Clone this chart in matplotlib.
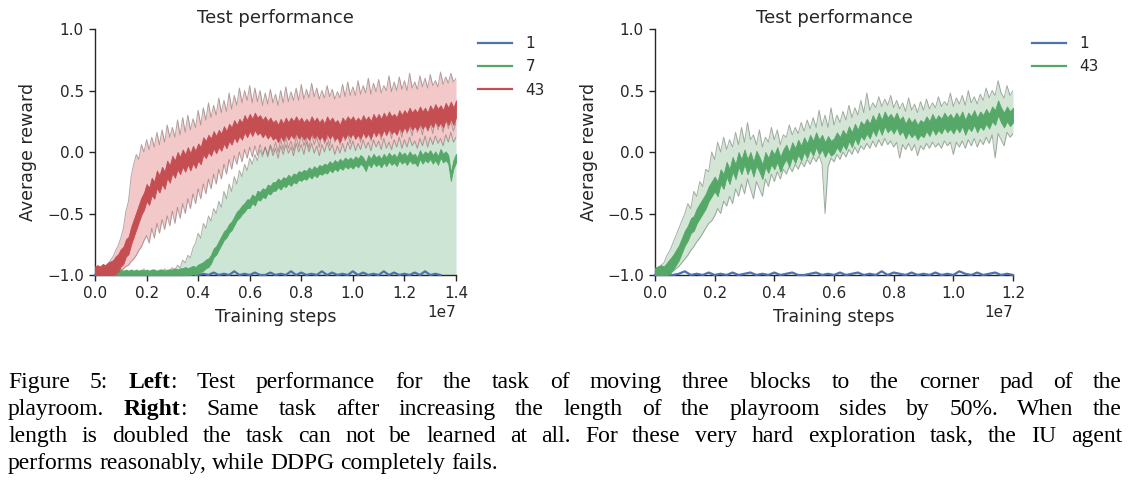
import numpy as np
import matplotlib
matplotlib.use('Agg')
import matplotlib.pyplot as plt
from matplotlib.lines import Line2D

# colours (seaborn "deep")
BLUE = '#4C72B0'
GREEN = '#55A868'
RED = '#C44E52'

# ---- left panel: three blocks, sampled every 0.01e7 steps from 0 to 1.4e7 ----
red43_mean = [
    -1.00, -0.99, -1.00, -0.98, -0.99, -0.97, -0.96, -0.95, -0.92, -0.90,
    -0.86, -0.84, -0.78, -0.76, -0.68, -0.62, -0.56, -0.50, -0.44, -0.40,
    -0.33, -0.36, -0.28, -0.31, -0.22, -0.26, -0.19, -0.23, -0.14, -0.18,
    -0.10, -0.14, -0.07, -0.11, -0.05, -0.09, -0.03, -0.08, -0.02, -0.06,
    0.00, -0.03, 0.05, 0.02, 0.07, 0.04, 0.10, 0.06, 0.11, 0.08,
    0.14, 0.10, 0.16, 0.13, 0.19, 0.15, 0.20, 0.17, 0.23, 0.19,
    0.24, 0.20, 0.25, 0.21, 0.23, 0.19, 0.22, 0.18, 0.21, 0.17,
    0.19, 0.15, 0.20, 0.16, 0.21, 0.17, 0.21, 0.18, 0.22, 0.18,
    0.21, 0.17, 0.20, 0.17, 0.22, 0.18, 0.21, 0.17, 0.20, 0.16,
    0.22, 0.18, 0.21, 0.17, 0.19, 0.15, 0.21, 0.18, 0.22, 0.19,
    0.22, 0.18, 0.21, 0.18, 0.23, 0.19, 0.22, 0.18, 0.24, 0.20,
    0.24, 0.20, 0.25, 0.21, 0.26, 0.22, 0.24, 0.21, 0.27, 0.23,
    0.27, 0.24, 0.29, 0.25, 0.28, 0.25, 0.30, 0.26, 0.29, 0.25,
    0.31, 0.27, 0.32, 0.28, 0.31, 0.27, 0.33, 0.29, 0.34, 0.29,
    0.35]
red43_core = 0.07   # half-thickness of the noisy mean trace
red43_hi = [
    -0.98, -0.97, -0.96, -0.95, -0.93, -0.91, -0.88, -0.85, -0.80, -0.76,
    -0.70, -0.62, -0.48, -0.40, -0.20, -0.10, -0.02, -0.06, 0.06, 0.00,
    0.10, 0.02, 0.12, 0.04, 0.16, 0.06, 0.18, 0.08, 0.22, 0.12,
    0.20, 0.12, 0.26, 0.14, 0.28, 0.16, 0.30, 0.18, 0.27, 0.20,
    0.34, 0.22, 0.36, 0.26, 0.40, 0.28, 0.38, 0.30, 0.44, 0.32,
    0.42, 0.33, 0.48, 0.35, 0.46, 0.38, 0.52, 0.40, 0.50, 0.42,
    0.54, 0.40, 0.52, 0.41, 0.50, 0.38, 0.48, 0.39, 0.51, 0.40,
    0.47, 0.38, 0.50, 0.40, 0.53, 0.41, 0.49, 0.42, 0.52, 0.42,
    0.55, 0.43, 0.51, 0.44, 0.56, 0.45, 0.52, 0.43, 0.50, 0.44,
    0.54, 0.45, 0.51, 0.43, 0.49, 0.44, 0.55, 0.45, 0.57, 0.46,
    0.53, 0.46, 0.58, 0.47, 0.54, 0.48, 0.60, 0.47, 0.56, 0.49,
    0.59, 0.48, 0.54, 0.50, 0.62, 0.49, 0.57, 0.50, 0.61, 0.51,
    0.58, 0.50, 0.64, 0.52, 0.57, 0.51, 0.62, 0.53, 0.60, 0.52,
    0.63, 0.54, 0.58, 0.53, 0.65, 0.55, 0.61, 0.56, 0.64, 0.57,
    0.60]
red43_lo = [
    -1.00, -1.00, -1.00, -1.00, -0.99, -0.99, -0.99, -0.98, -0.98, -0.97,
    -0.96, -0.95, -0.93, -0.92, -0.89, -0.87, -0.84, -0.80, -0.77, -0.72,
    -0.68, -0.74, -0.62, -0.70, -0.58, -0.66, -0.55, -0.63, -0.52, -0.60,
    -0.48, -0.58, -0.45, -0.54, -0.42, -0.50, -0.38, -0.46, -0.34, -0.42,
    -0.30, -0.38, -0.26, -0.34, -0.22, -0.30, -0.18, -0.26, -0.14, -0.22,
    -0.10, -0.18, -0.06, -0.14, -0.03, -0.10, 0.00, -0.08, 0.02, -0.05,
    0.04, -0.04, 0.05, -0.03, 0.06, -0.02, 0.04, -0.04, 0.05, -0.03,
    0.03, -0.05, 0.05, -0.02, 0.06, -0.01, 0.04, -0.03, 0.07, 0.00,
    0.06, -0.02, 0.08, 0.00, 0.07, -0.01, 0.05, -0.03, 0.06, 0.00,
    0.08, 0.01, 0.06, -0.02, 0.05, -0.01, 0.07, 0.00, 0.08, 0.02,
    0.09, 0.01, 0.07, 0.02, 0.10, 0.03, 0.08, 0.01, 0.10, 0.04,
    0.09, 0.02, 0.11, 0.03, 0.08, 0.02, 0.10, 0.04, 0.12, 0.03,
    0.10, 0.04, 0.12, 0.05, 0.09, 0.03, 0.11, 0.05, 0.13, 0.04,
    0.12, 0.06, 0.13, 0.07, 0.11, 0.05, 0.14, 0.08, 0.16, 0.08,
    0.12]

green7_mean = [
    -1.00, -0.99, -1.00, -0.99, -1.00, -0.99, -1.00, -0.99, -1.00, -0.99,
    -0.99, -1.00, -0.99, -1.00, -0.99, -1.00, -0.99, -1.00, -0.99, -1.00,
    -0.99, -1.00, -0.99, -0.99, -1.00, -0.99, -0.99, -1.00, -0.99, -0.99,
    -0.99, -0.98, -0.99, -0.98, -0.98, -0.97, -0.98, -0.97, -0.96, -0.97,
    -0.95, -0.94, -0.93, -0.91, -0.90, -0.87, -0.82, -0.80, -0.76, -0.72,
    -0.68, -0.66, -0.62, -0.60, -0.56, -0.52, -0.50, -0.47, -0.45, -0.42,
    -0.42, -0.38, -0.40, -0.35, -0.36, -0.33, -0.34, -0.30, -0.31, -0.28,
    -0.28, -0.25, -0.27, -0.24, -0.25, -0.22, -0.24, -0.21, -0.22, -0.19,
    -0.20, -0.18, -0.19, -0.16, -0.18, -0.15, -0.17, -0.14, -0.15, -0.13,
    -0.14, -0.11, -0.13, -0.10, -0.12, -0.09, -0.11, -0.08, -0.10, -0.08,
    -0.10, -0.07, -0.09, -0.06, -0.08, -0.12, -0.06, -0.09, -0.05, -0.08,
    -0.06, -0.09, -0.05, -0.08, -0.04, -0.07, -0.05, -0.08, -0.03, -0.06,
    -0.04, -0.07, -0.03, -0.06, -0.05, -0.08, -0.02, -0.06, -0.03, -0.05,
    -0.02, -0.06, -0.03, -0.07, -0.01, -0.05, -0.03, -0.06, -0.20, -0.10,
    -0.05]
green7_core = 0.035
green7_hi = [
    -0.99, -0.98, -0.99, -0.97, -0.99, -0.98, -0.96, -0.99, -0.98, -0.97,
    -0.99, -0.97, -0.98, -0.99, -0.96, -0.98, -0.99, -0.97, -0.98, -0.95,
    -0.99, -0.97, -0.98, -0.96, -0.99, -0.97, -0.98, -0.95, -0.97, -0.96,
    -0.94, -0.96, -0.92, -0.94, -0.88, -0.90, -0.84, -0.86, -0.78, -0.74,
    -0.66, -0.70, -0.58, -0.62, -0.52, -0.56, -0.46, -0.50, -0.40, -0.45,
    -0.32, -0.38, -0.26, -0.32, -0.20, -0.26, -0.15, -0.20, -0.10, -0.15,
    -0.05, -0.10, -0.02, -0.07, 0.02, -0.04, 0.04, -0.02, 0.06, 0.00,
    0.08, 0.00, 0.10, 0.02, 0.12, 0.03, 0.09, 0.01, 0.13, 0.04,
    0.14, 0.05, 0.11, 0.03, 0.15, 0.06, 0.12, 0.04, 0.16, 0.07,
    0.13, 0.05, 0.17, 0.08, 0.14, 0.06, 0.18, 0.09, 0.15, 0.07,
    0.19, 0.10, 0.16, 0.08, 0.20, 0.11, 0.17, 0.09, 0.21, 0.12,
    0.18, 0.10, 0.22, 0.13, 0.19, 0.11, 0.23, 0.14, 0.20, 0.12,
    0.24, 0.15, 0.21, 0.13, 0.25, 0.16, 0.22, 0.14, 0.26, 0.17,
    0.23, 0.15, 0.27, 0.18, 0.24, 0.16, 0.28, 0.19, 0.25, 0.17,
    0.24]
green7_lo = -1.0

# the single-block run stops at 1.34e7 (sampled every 0.02e7)
blue1_left = [-1.00] * 18 + [
    -1.00, -0.98, -1.00, -0.99, -1.00, -0.98, -1.00, -0.99, -1.00, -0.97,
    -1.00, -0.99, -1.00, -0.98, -1.00, -1.00, -0.98, -1.00, -0.99, -1.00,
    -0.97, -1.00, -0.98, -1.00, -0.99, -1.00, -0.97, -1.00, -0.98, -1.00,
    -0.99, -1.00, -0.97, -1.00, -0.98, -1.00, -0.99, -1.00, -0.97, -1.00,
    -0.98, -1.00, -0.99, -1.00, -0.98, -1.00, -0.97, -1.00, -0.99, -1.00]

# ---- right panel: sides 50% longer, sampled every 0.01e7 steps from 0 to 1.2e7 ----
green43_mean = [
    -1.00, -0.99, -0.98, -0.99, -0.96, -0.93, -0.90, -0.86, -0.82, -0.76,
    -0.70, -0.66, -0.60, -0.58, -0.52, -0.48, -0.44, -0.40, -0.34, -0.30,
    -0.26, -0.30, -0.20, -0.24, -0.14, -0.20, -0.10, -0.16, -0.06, -0.12,
    -0.04, -0.12, -0.06, -0.14, -0.05, -0.10, -0.16, -0.06, -0.11, -0.04,
    -0.08, -0.02, -0.10, -0.04, 0.00, -0.06, 0.02, -0.03, 0.04, -0.01,
    0.06, 0.01, 0.08, 0.03, 0.10, 0.04, 0.08, 0.02, 0.07, 0.03,
    0.05, 0.10, 0.06, 0.12, 0.08, 0.15, 0.10, 0.17, 0.12, 0.19,
    0.16, 0.21, 0.17, 0.24, 0.19, 0.26, 0.20, 0.27, 0.22, 0.25,
    0.21, 0.26, 0.20, 0.23, 0.17, 0.22, 0.18, 0.21, 0.16, 0.20,
    0.18, 0.23, 0.19, 0.25, 0.20, 0.24, 0.21, 0.26, 0.22, 0.25,
    0.21, 0.26, 0.22, 0.27, 0.20, 0.26, 0.23, 0.28, 0.22, 0.27,
    0.24, 0.29, 0.25, 0.31, 0.28, 0.36, 0.30, 0.26, 0.31, 0.27,
    0.30]
green43_core = 0.06
green43_hi = [
    -0.97, -0.94, -0.92, -0.90, -0.84, -0.80, -0.74, -0.68, -0.62, -0.56,
    -0.50, -0.42, -0.46, -0.32, -0.36, -0.24, -0.28, -0.14, -0.16, 0.00,
    -0.06, 0.08, 0.00, 0.12, 0.02, 0.10, 0.04, 0.16, 0.06, 0.20,
    0.08, 0.24, 0.10, 0.14, 0.06, 0.18, 0.04, 0.12, 0.08, 0.20,
    0.10, 0.18, 0.06, 0.14, 0.12, 0.22, 0.14, 0.20, 0.15, 0.24,
    0.17, 0.26, 0.19, 0.28, 0.20, 0.34, 0.21, 0.30, 0.20, 0.36,
    0.22, 0.30, 0.24, 0.33, 0.26, 0.38, 0.28, 0.36, 0.30, 0.42,
    0.32, 0.48, 0.34, 0.40, 0.36, 0.45, 0.37, 0.43, 0.38, 0.46,
    0.36, 0.42, 0.35, 0.40, 0.33, 0.44, 0.34, 0.39, 0.32, 0.41,
    0.34, 0.43, 0.35, 0.40, 0.36, 0.45, 0.37, 0.41, 0.38, 0.48,
    0.37, 0.44, 0.39, 0.46, 0.38, 0.50, 0.40, 0.45, 0.39, 0.47,
    0.42, 0.52, 0.44, 0.50, 0.46, 0.58, 0.48, 0.44, 0.54, 0.46,
    0.50]
green43_lo = [
    -1.00, -1.00, -1.00, -0.99, -0.99, -0.98, -0.97, -0.95, -0.93, -0.90,
    -0.87, -0.84, -0.80, -0.77, -0.73, -0.70, -0.66, -0.62, -0.58, -0.56,
    -0.52, -0.46, -0.50, -0.40, -0.44, -0.36, -0.42, -0.30, -0.36, -0.26,
    -0.34, -0.22, -0.30, -0.38, -0.24, -0.30, -0.36, -0.22, -0.28, -0.18,
    -0.24, -0.16, -0.22, -0.14, -0.18, -0.12, -0.16, -0.10, -0.14, -0.08,
    -0.12, -0.06, -0.10, -0.04, -0.08, -0.03, -0.10, -0.50, -0.12, -0.05,
    -0.08, -0.02, -0.06, 0.00, -0.04, 0.02, -0.02, 0.04, -0.01, 0.05,
    0.02, 0.07, 0.03, 0.09, 0.04, 0.10, 0.05, 0.11, 0.06, 0.09,
    0.04, 0.08, -0.05, 0.06, 0.02, 0.07, 0.01, 0.06, -0.03, 0.05,
    0.02, 0.07, 0.03, 0.08, 0.04, 0.07, 0.03, 0.09, 0.05, 0.08,
    -0.02, 0.08, 0.04, 0.09, 0.03, 0.10, 0.05, 0.11, 0.04, 0.10,
    0.06, 0.12, 0.07, 0.14, -0.05, 0.15, 0.10, 0.05, 0.16, 0.12,
    0.15]

# sampled every 0.02e7
blue1_right = [
    -1.00, -1.00, -1.00, -1.00, -0.99, -0.97, -1.00, -0.99, -1.00, -0.98,
    -1.00, -0.99, -1.00, -0.98, -1.00, -0.99, -0.98, -1.00, -0.99, -1.00,
    -0.98, -1.00, -0.99, -0.98, -1.00, -1.00, -0.99, -0.98, -1.00, -0.99,
    -1.00, -0.98, -1.00, -0.99, -0.98, -1.00, -0.99, -1.00, -0.97, -1.00,
    -0.98, -0.99, -1.00, -0.98, -1.00, -0.99, -1.00, -0.98, -1.00, -0.99,
    -1.00, -0.97, -0.99, -1.00, -0.98, -1.00, -0.99, -0.98, -1.00, -0.99, -1.00]

x_ticks_left = [0.0, 0.2, 0.4, 0.6, 0.8, 1.0, 1.2, 1.4]
x_ticks_right = [0.0, 0.2, 0.4, 0.6, 0.8, 1.0, 1.2]
y_ticks = [-1.0, -0.5, 0.0, 0.5, 1.0]

caption = [
    "Figure 5: **Left**: Test performance for the task of moving three blocks to the corner pad of the",
    "playroom. **Right**: Same task after increasing the length of the playroom sides by 50%. When the",
    "length is doubled the task can not be learned at all. For these very hard exploration task, the IU agent",
    "performs reasonably, while DDPG completely fails.",
]

W, H = 1131, 498
plt.rcParams['font.family'] = 'DejaVu Sans'
plt.rcParams['axes.unicode_minus'] = True
fig = plt.figure(figsize=(W / 100, H / 100), dpi=100, facecolor='white')


def style_axes(ax, xmax, xticks):
    ax.set_xlim(0, xmax)
    ax.set_ylim(-1.0, 1.0)
    ax.set_xticks([t * 1e7 for t in xticks])
    ax.set_yticks(y_ticks)
    ax.spines['top'].set_visible(False)
    ax.spines['right'].set_visible(False)
    for s in ('left', 'bottom'):
        ax.spines[s].set_color('#262626')
        ax.spines[s].set_linewidth(1.0)
    ax.tick_params(direction='out', length=4, width=1, color='#262626',
                   labelcolor='#262626', labelsize=11, pad=4)
    ax.xaxis.get_offset_text().set_fontsize(11)
    ax.xaxis.get_offset_text().set_color('#262626')
    ax.set_title('Test performance', fontsize=13, color='#262626', pad=4.5)
    ax.set_xlabel('Training steps', fontsize=12.5, color='#262626')
    ax.set_ylabel('Average reward', fontsize=12.5, color='#262626')
    ax.xaxis.set_label_coords(0.5, -0.135, transform=ax.transAxes)
    ax.yaxis.set_label_coords(-0.16, 0.5, transform=ax.transAxes)


def band(ax, x, lo, hi, fill, edge):
    ax.fill_between(x, lo, hi, color=fill, lw=0, zorder=1)
    ax.plot(x, hi, color=edge, lw=0.7, alpha=0.6, zorder=1.2)
    if not np.isscalar(lo):
        ax.plot(x, lo, color=edge, lw=0.7, alpha=0.6, zorder=1.2)


def trace(ax, x, mean, core, color, z):
    # the mean curve is so noisy that it reads as a thick ragged ribbon
    m = np.asarray(mean)
    ax.fill_between(x, np.maximum(m - core, -1.0), m + core, color=color,
                    lw=0.6, edgecolor=color, zorder=z, clip_on=False)


# ---- left panel ----
ax1 = fig.add_axes([95 / W, 1 - 275 / H, 361 / W, 246 / H])
xl = np.linspace(0, 1.4e7, len(red43_mean))
xb = np.linspace(0, 1.34e7, len(blue1_left))
ax1.plot(xb, blue1_left, color=BLUE, lw=1.6, zorder=2.6, clip_on=False)
band(ax1, xl, green7_lo, green7_hi, '#CDE5D4', '#7A7A72')
trace(ax1, xl, green7_mean, green7_core, GREEN, 2.7)
band(ax1, xl, red43_lo, red43_hi, '#F2C8C9', '#806C6C')
trace(ax1, xl, red43_mean, red43_core, RED, 2.8)
style_axes(ax1, 1.4e7, x_ticks_left)

handles = [Line2D([], [], color=c, lw=1.6) for c in (BLUE, GREEN, RED)]
fig.legend(handles, ['1', '7', '43'], loc='upper left',
           bbox_to_anchor=(478 / W, 1 - 36 / H), frameon=False, fontsize=11,
           handlelength=2.2, handletextpad=0.9, labelspacing=0.55,
           borderpad=0, borderaxespad=0, labelcolor='#262626')

# ---- right panel ----
ax2 = fig.add_axes([655 / W, 1 - 275 / H, 358 / W, 246 / H])
xr = np.linspace(0, 1.2e7, len(green43_mean))
xbr = np.linspace(0, 1.2e7, len(blue1_right))
ax2.plot(xbr, blue1_right, color=BLUE, lw=1.6, zorder=2.6, clip_on=False)
band(ax2, xr, green43_lo, green43_hi, '#D3E6D6', '#6F786F')
trace(ax2, xr, green43_mean, green43_core, GREEN, 2.7)
style_axes(ax2, 1.2e7, x_ticks_right)

handles = [Line2D([], [], color=c, lw=1.6) for c in (BLUE, GREEN)]
fig.legend(handles, ['1', '43'], loc='upper left',
           bbox_to_anchor=(1032 / W, 1 - 36 / H), frameon=False, fontsize=11,
           handlelength=2.2, handletextpad=0.9, labelspacing=0.55,
           borderpad=0, borderaxespad=0, labelcolor='#262626')


# ---- caption, justified between x0 and x1 ----
def caption_words(line):
    words = []
    for w in line.split(' '):
        segs = [(s, k % 2 == 1) for k, s in enumerate(w.split('**')) if s]
        words.append(segs)
    return words


def measure(s, bold, size, r):
    t = fig.text(0, 0, s, fontsize=size, family='Liberation Serif',
                 weight='bold' if bold else 'normal')
    w = t.get_window_extent(r).width
    t.remove()
    return w


r = fig.canvas.get_renderer()
x0, x1 = 8, 1122
baselines = [388, 415, 442, 469]
size = 17.0
space = measure('a a', False, size, r) - measure('aa', False, size, r)
widest = 0
for line in caption[:3]:
    words = caption_words(line)
    tot = sum(measure(s, b, size, r) for segs in words for s, b in segs)
    widest = max(widest, tot + space * (len(words) - 1))
if widest > x1 - x0:
    size = size * (x1 - x0) / widest
    space = measure('a a', False, size, r) - measure('aa', False, size, r)

for i, (line, yb) in enumerate(zip(caption, baselines)):
    words = caption_words(line)
    widths = [[measure(s, b, size, r) for s, b in segs] for segs in words]
    total = sum(sum(w) for w in widths)
    if i < len(caption) - 1:
        gap = (x1 - x0 - total) / (len(words) - 1)
    else:
        gap = space
    x = x0
    for segs, ws in zip(words, widths):
        for (s, b), w in zip(segs, ws):
            fig.text(x / W, 1 - yb / H, s, fontsize=size, family='Liberation Serif',
                     weight='bold' if b else 'normal', va='baseline', ha='left',
                     color='black')
            x += w
        x += gap

fig.savefig('out.png', dpi=100, facecolor='white')
